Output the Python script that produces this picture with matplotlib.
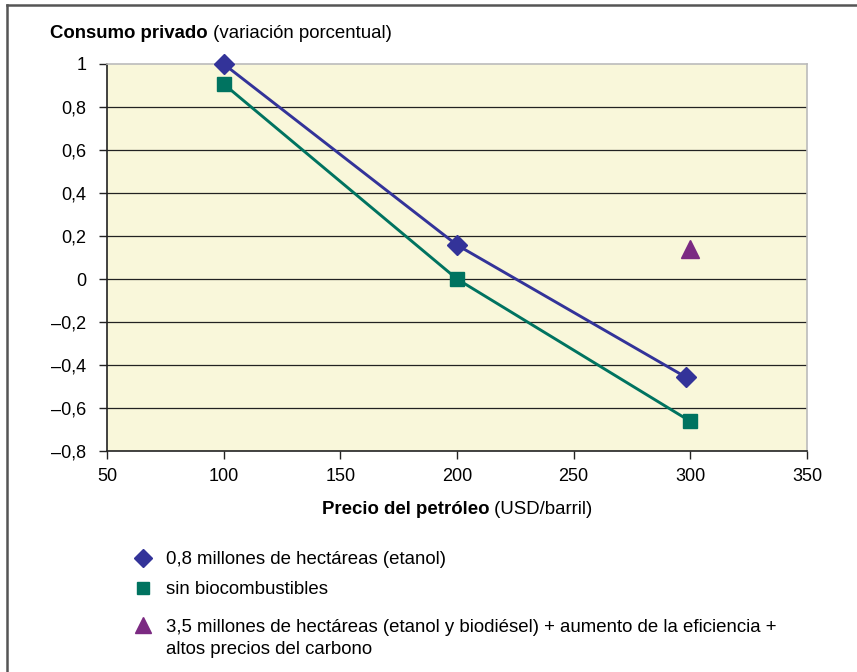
import matplotlib
matplotlib.use("Agg")
import matplotlib.pyplot as plt
from matplotlib.lines import Line2D

plt.rcParams['font.family'] = ['Liberation Sans', 'DejaVu Sans']

# Data
precio = [100, 200, 298]
etanol_08 = [1.0, 0.158, -0.456]
precio_sin = [100, 200, 300]
sin_bio = [0.907, 0.0, -0.662]
precio_35 = [300]
etanol_35 = [0.14]

yticks = [1, 0.8, 0.6, 0.4, 0.2, 0, -0.2, -0.4, -0.6, -0.8]
xticks = [50, 100, 150, 200, 250, 300, 350]

labels = ["0,8 millones de hectáreas (etanol)",
          "sin biocombustibles",
          "3,5 millones de hectáreas (etanol y biodiésel) + aumento de la eficiencia +\naltos precios del carbono"]

c_blue = "#333399"
c_green = "#007360"
c_purple = "#7B2A82"
bg = "#F9F7DA"

W, H = 857, 672
fig = plt.figure(figsize=(W/100, H/100), dpi=100)
fig.patch.set_facecolor("white")

ax = fig.add_axes([107/W, 1-451/H, 700/W, 387/H])
ax.set_facecolor(bg)
ax.set_xlim(50, 350)
ax.set_ylim(-0.8, 1.0)

for v in yticks:
    if v != 1 and v != -0.8:
        ax.axhline(v, color="#222222", lw=0.9, zorder=1)

ax.plot(precio, etanol_08, color=c_blue, lw=2.1, marker="D", ms=10, zorder=3, clip_on=False)
ax.plot(precio_sin, sin_bio, color=c_green, lw=2.1, marker="s", ms=10, zorder=3, clip_on=False)
ax.plot(precio_35, etanol_35, color=c_purple, lw=0, marker="^", ms=13, zorder=3, clip_on=False)

ax.set_xticks(xticks)
ax.set_xticklabels([str(x) for x in xticks])
ax.set_yticks(yticks)
def fmt(v):
    s = f"{abs(v):g}".replace(".", ",")
    return ("–" + s) if v < 0 else s
ax.set_yticklabels([fmt(v) for v in yticks])
ax.tick_params(axis="both", labelsize=13, direction="out", length=6, width=1, color="#222222", pad=6)
ax.tick_params(axis="y", pad=9)

ax.spines["left"].set_color("#222222")
ax.spines["bottom"].set_color("#222222")
ax.spines["top"].set_color("#BBBBBB")
ax.spines["right"].set_color("#BBBBBB")
for s in ax.spines.values():
    s.set_linewidth(1.2)

# Titles with bold/normal parts
fig.canvas.draw()
renderer = fig.canvas.get_renderer()

def mixed(x_px, y_px, bold, normal, ha="left"):
    t1 = fig.text(x_px/W, 1-y_px/H, bold, fontsize=13.4, fontweight="bold", va="center", ha="left")
    t2 = fig.text(0, 1-y_px/H, " " + normal, fontsize=13.4, va="center", ha="left")
    fig.canvas.draw()
    b1 = t1.get_window_extent(renderer)
    b2 = t2.get_window_extent(renderer)
    if ha == "center":
        total = b1.width + b2.width
        x0 = x_px - total/2
        t1.set_x(x0/W)
        fig.canvas.draw()
        b1 = t1.get_window_extent(renderer)
    t2.set_x(b1.x1/W)

mixed(50, 34, "Consumo privado", "(variación porcentual)")
mixed(457, 510, "Precio del petróleo", "(USD/barril)", ha="center")

# Legend (manual)
lax = fig.add_axes([0, 0, 1, 1], facecolor="none")
lax.set_xlim(0, W)
lax.set_ylim(H, 0)
lax.axis("off")
leg_y = [558, 588, 625]
leg_m = [("D", c_blue, 9), ("s", c_green, 9), ("^", c_purple, 12)]
for (m, c, ms), yy, lab in zip(leg_m, leg_y, labels):
    lax.add_line(Line2D([143], [yy], marker=m, color=c, ms=ms, lw=0))
    for i, line in enumerate(lab.split("\n")):
        lax.text(166, yy + 2 + 22 * i, line, fontsize=13.4, va="center", ha="left")

# Figure border (top and left only)
lax.add_line(Line2D([7, W], [5, 5], color="#555555", lw=1.8))
lax.add_line(Line2D([7.5, 7.5], [5, H], color="#555555", lw=1.8))

fig.savefig("out.png", dpi=100)
